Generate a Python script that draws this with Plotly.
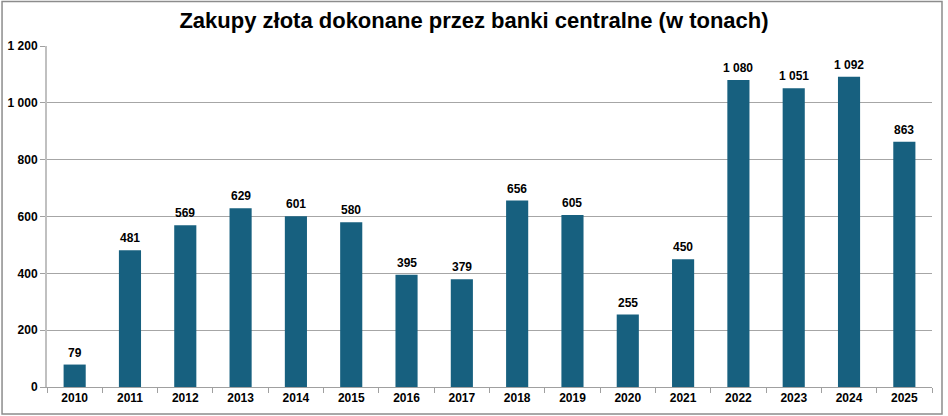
import plotly.graph_objects as go

# Dane: zakupy zlota przez banki centralne (tony)
years = ["2010", "2011", "2012", "2013", "2014", "2015", "2016", "2017",
         "2018", "2019", "2020", "2021", "2022", "2023", "2024", "2025"]
tonnes = [79, 481, 569, 629, 601, 580, 395, 379,
          656, 605, 255, 450, 1080, 1051, 1092, 863]
y_ticks = [0, 200, 400, 600, 800, 1000, 1200]
y_tick_labels = ["0", "200", "400", "600", "800", "1 000", "1 200"]


def fmt(v):
    # separator tysiecy jako spacja
    return f"{v:,}".replace(",", " ")


BAR_COLOR = "#17607f"
FONT = "Liberation Sans, Arial, sans-serif"

fig = go.Figure()
fig.add_trace(
    go.Bar(
        x=years,
        y=tonnes,
        width=0.4,
        marker=dict(color=BAR_COLOR, line=dict(width=0)),
        hoverinfo="x+y",
    )
)

# etykiety wartosci nad slupkami (x = indeks kategorii)
labels = [
    dict(x=i, y=v, xref="x", yref="y", text=fmt(v), showarrow=False,
         yanchor="bottom", yshift=3,
         font=dict(family=FONT, size=12, color="#000000", weight="bold"))
    for i, v in enumerate(tonnes)
]

fig.update_layout(
    width=948,
    height=416,
    paper_bgcolor="#ffffff",
    plot_bgcolor="#ffffff",
    margin=dict(l=47, r=16, t=46, b=29, autoexpand=False),
    showlegend=False,
    annotations=labels,
    title=dict(
        text="<b>Zakupy złota dokonane przez banki centralne (w tonach)</b>",
        x=0.5,
        xanchor="center",
        y=0.952,
        yanchor="middle",
        font=dict(family=FONT, size=22, color="#000000"),
    ),
    xaxis=dict(
        type="category",
        range=[-0.5, len(years) - 0.5],
        tickson="boundaries",
        ticks="outside",
        ticklen=5,
        tickcolor="#a0a0a0",
        showline=True,
        linecolor="#a0a0a0",
        linewidth=1,
        showgrid=False,
        automargin=False,
        tickfont=dict(family=FONT, size=12, color="#000000", weight="bold"),
    ),
    yaxis=dict(
        range=[0, 1200],
        tickvals=y_ticks,
        ticktext=y_tick_labels,
        ticks="outside",
        ticklen=5,
        tickcolor="#a0a0a0",
        showline=True,
        linecolor="#c0c0c0",
        linewidth=2,
        showgrid=True,
        gridcolor="#a6a6a6",
        gridwidth=1,
        zeroline=False,
        automargin=False,
        tickfont=dict(family=FONT, size=12, color="#000000", weight="bold"),
    ),
    shapes=[
        # obramowanie wykresu
        dict(type="rect", xref="paper", yref="paper",
             x0=-0.0508, x1=1.0113, y0=-0.0792, y1=1.1305,
             line=dict(color="#8c8c8c", width=1.5)),
    ],
)

fig.write_html("out.html", config={"displayModeBar": False},
               post_script="document.body.style.margin='0';")
